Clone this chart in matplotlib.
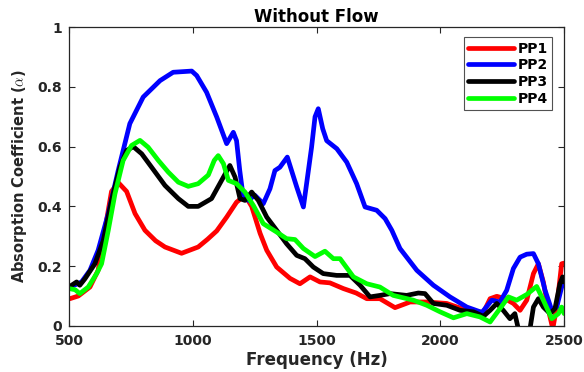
import matplotlib
matplotlib.use("Agg")
import matplotlib.pyplot as plt

# ---- data ----
pp1_f = [504, 538, 585, 618, 645, 672, 699, 733, 767, 807, 850, 888, 955, 1022, 1060, 1097, 1137, 1177, 1211,
         1238, 1272, 1299, 1339, 1393, 1433, 1474, 1514, 1554, 1608, 1660, 1703, 1756, 1817, 1878, 1945, 2026,
         2107, 2174, 2201, 2228, 2261, 2295, 2322, 2349, 2376, 2396, 2416, 2437, 2454, 2470, 2490, 2500]
pp1_a = [0.091, 0.10, 0.13, 0.186, 0.32, 0.45, 0.48, 0.45, 0.376, 0.32, 0.285, 0.264, 0.243, 0.264, 0.29, 0.318,
         0.364, 0.414, 0.437, 0.40, 0.31, 0.253, 0.197, 0.159, 0.141, 0.164, 0.147, 0.144, 0.125, 0.11, 0.091,
         0.091, 0.061, 0.08, 0.08, 0.075, 0.052, 0.045, 0.091, 0.099, 0.091, 0.075, 0.052, 0.086, 0.175, 0.208,
         0.147, 0.052, -0.01, 0.063, 0.208, 0.21]

pp2_f = [500, 551, 585, 618, 659, 699, 746, 800, 868, 921, 996, 1016, 1056, 1097, 1137, 1164, 1177, 1190, 1204,
         1224, 1251, 1285, 1312, 1332, 1352, 1382, 1420, 1447, 1480, 1494, 1507, 1525, 1541, 1582, 1622, 1662,
         1696, 1743, 1777, 1804, 1837, 1905, 1972, 2039, 2107, 2168, 2208, 2241, 2268, 2295, 2322, 2349, 2376,
         2396, 2423, 2450, 2470, 2490, 2500]
pp2_a = [0.128, 0.147, 0.186, 0.253, 0.376, 0.52, 0.677, 0.766, 0.821, 0.849, 0.853, 0.838, 0.782, 0.699, 0.61,
         0.648, 0.62, 0.52, 0.431, 0.42, 0.437, 0.409, 0.459, 0.52, 0.531, 0.565, 0.465, 0.398, 0.598, 0.70,
         0.727, 0.66, 0.62, 0.593, 0.548, 0.476, 0.398, 0.387, 0.359, 0.32, 0.259, 0.186, 0.136, 0.097, 0.063,
         0.045, 0.086, 0.08, 0.119, 0.192, 0.23, 0.24, 0.242, 0.208, 0.119, 0.052, 0.063, 0.13, 0.147]

pp3_f = [500, 531, 544, 565, 605, 639, 672, 706, 733, 760, 794, 834, 888, 942, 982, 1022, 1076, 1124, 1150, 1171,
         1191, 1211, 1238, 1265, 1299, 1339, 1379, 1420, 1453, 1487, 1527, 1581, 1635, 1676, 1716, 1756, 1797,
         1864, 1911, 1938, 1972, 2026, 2080, 2134, 2174, 2201, 2228, 2254, 2281, 2301, 2315, 2335, 2362, 2376,
         2396, 2416, 2443, 2463, 2483, 2494, 2500]
pp3_a = [0.13, 0.147, 0.136, 0.158, 0.208, 0.286, 0.42, 0.531, 0.587, 0.60, 0.576, 0.531, 0.47, 0.426, 0.40, 0.40,
         0.426, 0.498, 0.537, 0.498, 0.426, 0.42, 0.448, 0.42, 0.364, 0.32, 0.275, 0.236, 0.225, 0.197, 0.175,
         0.169, 0.169, 0.136, 0.097, 0.102, 0.108, 0.102, 0.11, 0.108, 0.075, 0.069, 0.052, 0.047, 0.032, 0.052,
         0.075, 0.052, 0.024, 0.041, -0.01, -0.06, -0.01, 0.063, 0.091, 0.063, 0.041, 0.058, 0.141, 0.164, 0.147]

pp4_f = [500, 525, 544, 578, 612, 632, 659, 686, 719, 753, 787, 820, 861, 901, 942, 982, 1022, 1063, 1087, 1103,
         1124, 1144, 1177, 1211, 1245, 1285, 1339, 1379, 1413, 1447, 1494, 1534, 1568, 1595, 1649, 1703, 1756,
         1810, 1891, 1945, 1999, 2053, 2107, 2160, 2201, 2241, 2275, 2308, 2349, 2389, 2416, 2450, 2477, 2490,
         2500]
pp4_a = [0.125, 0.121, 0.108, 0.13, 0.175, 0.208, 0.32, 0.442, 0.554, 0.604, 0.621, 0.598, 0.554, 0.515, 0.481,
         0.467, 0.476, 0.505, 0.554, 0.57, 0.543, 0.487, 0.476, 0.448, 0.403, 0.342, 0.314, 0.292, 0.289, 0.259,
         0.232, 0.25, 0.225, 0.225, 0.164, 0.141, 0.13, 0.102, 0.086, 0.069, 0.047, 0.027, 0.041, 0.03, 0.013,
         0.058, 0.097, 0.086, 0.105, 0.132, 0.086, 0.024, 0.041, 0.063, 0.041]

series = [("PP1", pp1_f, pp1_a, "#ff0000"),
          ("PP2", pp2_f, pp2_a, "#0000ff"),
          ("PP3", pp3_f, pp3_a, "#000000"),
          ("PP4", pp4_f, pp4_a, "#00ff00")]

xticks = [500, 1000, 1500, 2000, 2500]
yticks = [0, 0.2, 0.4, 0.6, 0.8, 1]
ytick_labels = ["0", "0.2", "0.4", "0.6", "0.8", "1"]

plt.rcParams['font.family'] = ['DejaVu Sans']
plt.rcParams['mathtext.fontset'] = 'cm'
txt = "#262626"

fig = plt.figure(figsize=(5.84, 3.72), dpi=100)
ax = fig.add_axes([0.118, 0.124, 0.848, 0.803])

for name, f, a, c in series:
    ax.plot(f, a, color=c, lw=3.4, label=name, solid_joinstyle='round', solid_capstyle='round')

ax.set_xlim(500, 2500)
ax.set_ylim(0, 1)
ax.set_xticks(xticks)
ax.set_xticklabels([str(t) for t in xticks])
ax.set_yticks(yticks)
ax.set_yticklabels(ytick_labels)
ax.tick_params(direction='in', top=True, right=True, length=4, width=0.8, colors=txt, labelsize=10)
ax.tick_params(axis='x', pad=6)
ax.tick_params(axis='y', pad=5)
for lab in ax.get_xticklabels() + ax.get_yticklabels():
    lab.set_fontweight('bold')
for s in ax.spines.values():
    s.set_color(txt)
    s.set_linewidth(0.9)

ax.set_xlabel("Frequency (Hz)", fontsize=12, fontweight='bold', color=txt, labelpad=2)
ax.set_ylabel(r"Absorption Coefficient ($\alpha$)", fontsize=10.5, fontweight='bold', color=txt, labelpad=6)
ax.set_title("Without Flow", fontsize=12, fontweight='bold', color='black', pad=4)

leg = ax.legend(loc='upper right', bbox_to_anchor=(0.982, 0.975), fontsize=10, handlelength=3.3,
                frameon=True, fancybox=False, edgecolor=txt, borderpad=0.3, labelspacing=0.2,
                handletextpad=0.3, borderaxespad=0.2)
leg.get_frame().set_linewidth(0.8)
for t in leg.get_texts():
    t.set_fontweight('bold')
    t.set_color('black')

fig.savefig("out.png", dpi=100)
